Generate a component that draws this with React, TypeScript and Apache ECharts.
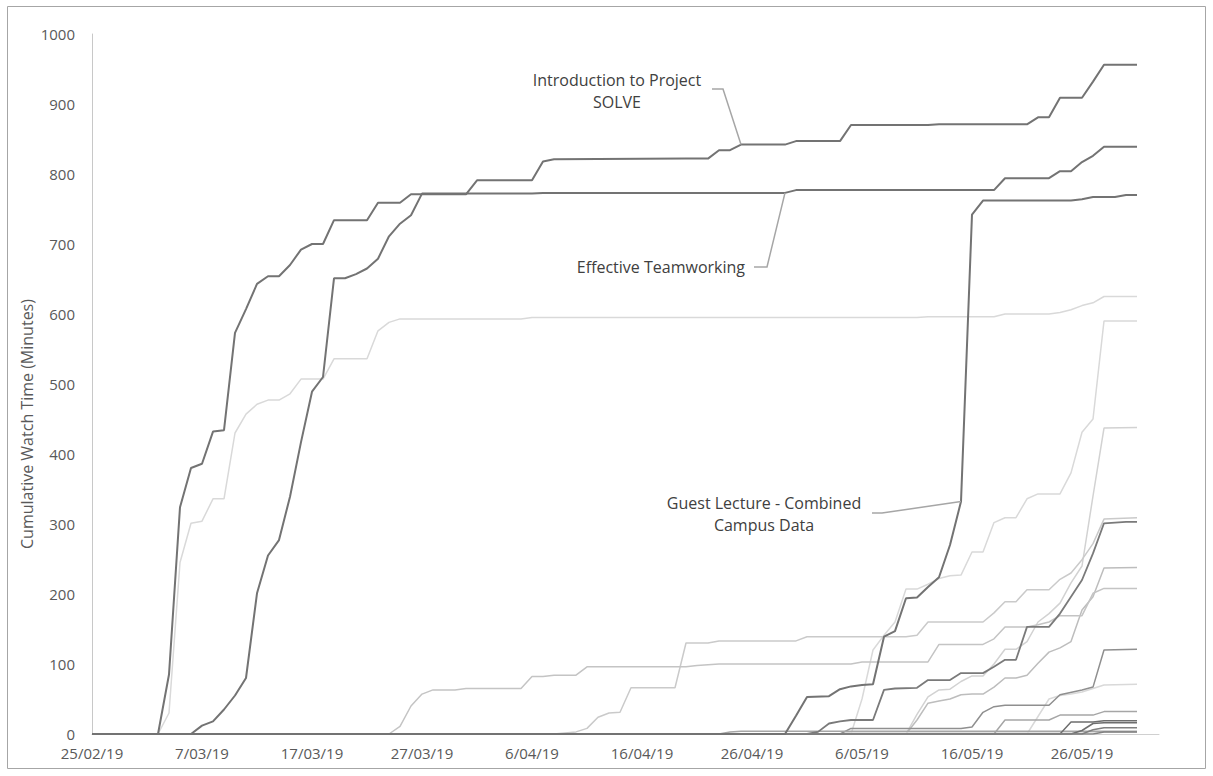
import React, { useEffect, useRef } from "react";
import * as echarts from "echarts";

// x = day index, 0 = 25/02/19 ... 95 = 31/05/19 (one point per day); only the
// vertices of each cumulative line are listed, ECharts joins them.
const TICK_LABELS = [
  "25/02/19", "7/03/19", "17/03/19", "27/03/19", "6/04/19",
  "16/04/19", "26/04/19", "6/05/19", "16/05/19", "26/05/19",
];
const Y_TITLE = "Cumulative Watch Time (Minutes)";

const INTRO_SOLVE = [
  [0, 0], [6, 0], [7, 85], [8, 324], [9, 380], [10, 386], [11, 432], [12, 434], [13, 573],
  [14, 607], [15, 643], [16, 654], [17, 654], [18, 670], [19, 692], [20, 700], [21, 700],
  [22, 734], [25, 734], [26, 759], [28, 759], [29, 771], [34, 771], [35, 791], [40, 791],
  [41, 818], [42, 821], [54, 822], [56, 822], [57, 834], [58, 834], [59, 842], [63, 842],
  [64, 847], [68, 847], [69, 870], [76, 870], [77, 871], [85, 871], [86, 881], [87, 881],
  [88, 909], [90, 909], [91, 932], [92, 956], [95, 956],
];
const EFFECTIVE_TEAMWORKING = [
  [0, 0], [9, 0], [10, 12], [11, 18], [12, 35], [13, 55], [14, 80], [15, 201], [16, 255],
  [17, 277], [18, 339], [19, 417], [20, 489], [21, 510], [22, 651], [23, 651], [24, 657],
  [25, 665], [26, 679], [27, 711], [28, 729], [29, 741], [30, 772], [40, 772], [41, 773],
  [63, 773], [64, 777], [82, 777], [83, 794], [87, 794], [88, 804], [89, 804], [90, 817],
  [91, 826], [92, 839], [95, 839],
];
const GUEST_LECTURE = [
  [0, 0], [63, 0], [64, 26], [65, 53], [67, 54], [68, 64], [69, 68], [70, 70], [71, 71],
  [72, 139], [73, 147], [74, 194], [75, 195], [76, 210], [77, 224], [78, 270], [79, 332],
  [80, 742], [81, 762], [89, 762], [90, 764], [91, 767], [93, 767], [94, 770], [95, 770],
];
const LIGHT_625 = [
  [0, 0], [6, 0], [7, 30], [8, 245], [9, 301], [10, 304], [11, 336], [12, 336], [13, 430],
  [14, 457], [15, 471], [16, 477], [17, 477], [18, 486], [19, 507], [21, 507], [22, 536],
  [25, 536], [26, 576], [27, 588], [28, 593], [39, 593], [40, 595], [75, 595], [76, 596],
  [82, 596], [83, 600], [87, 600], [88, 602], [89, 606], [90, 612], [91, 616], [92, 625],
  [95, 625],
];
const LIGHT_590 = [
  [0, 0], [69, 0], [70, 50], [71, 120], [72, 141], [73, 160], [74, 207], [75, 207],
  [76, 214], [77, 222], [78, 226], [79, 227], [80, 260], [81, 260], [82, 302], [83, 309],
  [84, 309], [85, 336], [86, 343], [88, 343], [89, 373], [90, 431], [91, 450], [92, 590],
  [95, 590],
];
const LIGHT_438 = [
  [0, 0], [74, 0], [75, 28], [76, 53], [77, 63], [78, 64], [79, 75], [80, 83], [81, 83],
  [82, 100], [83, 121], [84, 121], [85, 132], [86, 160], [87, 172], [88, 187], [89, 216],
  [90, 240], [91, 340], [92, 437], [95, 438],
];
const LIGHT_309 = [
  [0, 0], [42, 0], [44, 3], [45, 8], [46, 24], [47, 30], [48, 31], [49, 66], [53, 66],
  [54, 130], [56, 130], [57, 133], [64, 133], [65, 139], [74, 139], [75, 141], [76, 160],
  [81, 160], [82, 173], [83, 189], [84, 189], [85, 206], [87, 206], [88, 221], [89, 230],
  [90, 249], [91, 272], [92, 307], [95, 309],
];
const LIGHT_238 = [
  [0, 0], [74, 0], [75, 20], [76, 44], [77, 47], [78, 50], [79, 56], [80, 57], [81, 57],
  [82, 67], [83, 80], [84, 80], [85, 84], [86, 101], [87, 117], [88, 123], [89, 132],
  [90, 177], [91, 196], [92, 237], [95, 238],
];
const LIGHT_208 = [
  [0, 0], [27, 0], [28, 11], [29, 40], [30, 57], [31, 63], [33, 63], [34, 65], [39, 65],
  [40, 82], [41, 82], [42, 84], [44, 84], [45, 96], [54, 96], [55, 98], [56, 99], [57, 100],
  [69, 100], [70, 103], [76, 103], [77, 128], [81, 128], [82, 136], [83, 153], [85, 153],
  [86, 156], [87, 160], [88, 169], [90, 169], [91, 201], [92, 208], [95, 208],
];
const LIGHT_71 = [
  [0, 0], [85, 0], [86, 25], [87, 50], [88, 55], [89, 57], [90, 60], [91, 65], [92, 70], [95, 71],
];
const LIGHT_3 = [[0, 0], [68, 0], [69, 3], [95, 3]];
const MID_121 = [
  [0, 0], [68, 0], [69, 8], [79, 8], [80, 10], [81, 31], [82, 39], [83, 41], [87, 41],
  [88, 56], [90, 63], [91, 67], [92, 120], [95, 121],
];
const MID_32 = [[0, 0], [82, 0], [83, 20], [87, 20], [88, 27], [91, 27], [92, 32], [95, 32]];
const MID_4 = [[0, 0], [57, 0], [58, 3], [59, 4], [95, 4]];
const DARK_303 = [
  [0, 0], [65, 0], [66, 3], [67, 15], [68, 18], [69, 20], [71, 20], [72, 63], [73, 65],
  [75, 66], [76, 77], [78, 77], [79, 87], [81, 87], [82, 96], [83, 106], [84, 106],
  [85, 153], [87, 153], [88, 172], [89, 196], [90, 220], [91, 258], [92, 301], [94, 303],
  [95, 303],
];
const DARK_19 = [[0, 0], [88, 0], [89, 17], [91, 17], [92, 19], [95, 19]];
const DARK_16 = [[0, 0], [89, 0], [90, 5], [91, 15], [92, 16], [95, 16]];
const DARK_9 = [[0, 0], [90, 0], [91, 6], [92, 9], [95, 9]];
const DARK_3 = [[0, 0], [91, 0], [92, 3], [95, 3]];

const SERIES = [
  { name: "Light 625", data: LIGHT_625, color: "#d9d9d9", width: 1.5 },
  { name: "Light 590", data: LIGHT_590, color: "#d9d9d9", width: 1.5 },
  { name: "Light 438", data: LIGHT_438, color: "#d2d2d2", width: 1.5 },
  { name: "Light 309", data: LIGHT_309, color: "#cacaca", width: 1.5 },
  { name: "Light 238", data: LIGHT_238, color: "#bdbdbd", width: 1.5 },
  { name: "Light 208", data: LIGHT_208, color: "#c4c4c4", width: 1.5 },
  { name: "Light 71", data: LIGHT_71, color: "#d9d9d9", width: 1.5 },
  { name: "Light 3", data: LIGHT_3, color: "#d9d9d9", width: 1.5 },
  { name: "Mid 121", data: MID_121, color: "#8f8f8f", width: 1.5 },
  { name: "Mid 32", data: MID_32, color: "#a6a6a6", width: 1.5 },
  { name: "Mid 4", data: MID_4, color: "#a6a6a6", width: 1.5 },
  { name: "Dark 303", data: DARK_303, color: "#7a7a7a", width: 1.8 },
  { name: "Dark 19", data: DARK_19, color: "#6e6e6e", width: 1.5 },
  { name: "Dark 16", data: DARK_16, color: "#6e6e6e", width: 1.5 },
  { name: "Dark 9", data: DARK_9, color: "#808080", width: 1.5 },
  { name: "Dark 3", data: DARK_3, color: "#808080", width: 1.5 },
  { name: "Guest Lecture - Combined Campus Data", data: GUEST_LECTURE, color: "#737373", width: 2 },
  { name: "Effective Teamworking", data: EFFECTIVE_TEAMWORKING, color: "#737373", width: 2 },
  { name: "Introduction to Project SOLVE", data: INTRO_SOLVE, color: "#737373", width: 2 },
];

// callouts: label position (px) and the data point the leader line points to
const CALLOUTS = [
  { text: "Introduction to Project\nSOLVE", x: 617, y: 91, align: "center", leaderFrom: [712, 89], elbow: [723, 89], anchor: [59, 842] },
  { text: "Effective Teamworking", x: 745, y: 267, align: "right", leaderFrom: [754, 267], elbow: [767, 267], anchor: [63, 773] },
  { text: "Guest Lecture - Combined\nCampus Data", x: 764, y: 514, align: "center", leaderFrom: [872, 513], elbow: [882, 513], anchor: [79, 332] },
];

const FONT = '"Open Sans", "Noto Sans", sans-serif';

export default function App() {
  const ref = useRef<HTMLDivElement>(null);
  useEffect(() => {
    if (!ref.current) return;
    const chart = echarts.init(ref.current, null, { renderer: "svg" });
    chart.setOption({
      animation: false,
      backgroundColor: "#ffffff",
      grid: { left: 92, right: 54, top: 34, bottom: 42, containLabel: false },
      xAxis: {
        type: "value",
        min: 0,
        max: 97,
        interval: 10,
        axisLine: { show: true, onZero: false, lineStyle: { color: "#d0d0d0", width: 1 } },
        axisTick: { show: false },
        splitLine: { show: false },
        axisLabel: {
          formatter: (v: number) => TICK_LABELS[v / 10] ?? "",
          color: "#595959",
          fontSize: 15,
          fontFamily: FONT,
          margin: 11,
          showMaxLabel: false,
        },
      },
      yAxis: {
        type: "value",
        min: 0,
        max: 1000,
        interval: 100,
        axisLine: { show: true, lineStyle: { color: "#c8c8c8", width: 1 } },
        axisTick: { show: false },
        splitLine: { show: false },
        axisLabel: {
          formatter: (v: number) => String(v),
          color: "#595959",
          fontSize: 15,
          fontFamily: FONT,
          margin: 17,
        },
      },
      series: SERIES.map((s) => ({
        type: "line",
        name: s.name,
        data: s.data,
        showSymbol: false,
        symbol: "none",
        silent: true,
        lineStyle: { color: s.color, width: s.width },
        emphasis: { disabled: true },
      })),
    });

    const graphics: any[] = [
      {
        type: "rect",
        shape: { x: 7.5, y: 6.5, width: 1198, height: 762 },
        style: { fill: "none", stroke: "#a6a6a6", lineWidth: 1 },
        silent: true,
        z: -1,
      },
      {
        type: "text",
        x: 27,
        y: 424,
        rotation: Math.PI / 2,
        style: {
          text: Y_TITLE,
          font: `16px ${FONT}`,
          fill: "#595959",
          align: "center",
          verticalAlign: "middle",
        },
        silent: true,
      },
    ];
    CALLOUTS.forEach((c) => {
      const p = chart.convertToPixel({ gridIndex: 0 }, c.anchor) as number[];
      graphics.push({
        type: "polyline",
        shape: { points: [c.leaderFrom, c.elbow, p] },
        style: { stroke: "#a6a6a6", lineWidth: 1.5, fill: "none" },
        silent: true,
        z: 10,
      });
      graphics.push({
        type: "text",
        x: c.x,
        y: c.y,
        style: {
          text: c.text,
          font: `16px ${FONT}`,
          fill: "#404040",
          align: c.align,
          verticalAlign: "middle",
          lineHeight: 22,
        },
        silent: true,
        z: 10,
      });
    });
    chart.setOption({ graphic: graphics });
    return () => chart.dispose();
  }, []);
  return (
    <div
      ref={ref}
      style={{ position: "fixed", left: 0, top: 0, width: 1213, height: 776, background: "#fff" }}
    />
  );
}
